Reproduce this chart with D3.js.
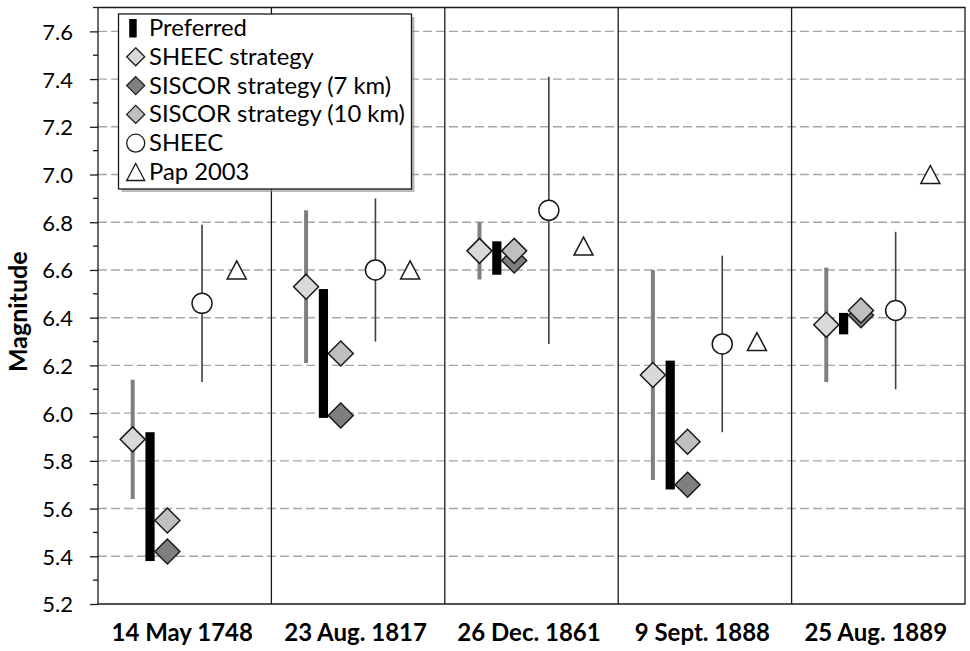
<!DOCTYPE html>
<html>
<head>
<meta charset="utf-8">
<script src="https://cdn.jsdelivr.net/npm/d3@7"></script>
<style>
  html, body { margin: 0; padding: 0; background: #fff; }
  svg { display: block; }
  text { font-family: Lato, "Open Sans", sans-serif; fill: #000; }
</style>
</head>
<body>
<svg id="chart" width="970" height="651"></svg>
<script>
// ---- data ----
const events = ["14 May 1748", "23 Aug. 1817", "26 Dec. 1861", "9 Sept. 1888", "25 Aug. 1889"];
const preferredLow  = [5.38, 5.98, 6.58, 5.68, 6.33];
const preferredHigh = [5.92, 6.52, 6.72, 6.22, 6.42];
const sheecStrategy     = [5.89, 6.53, 6.68, 6.16, 6.37];
const sheecStrategyLow  = [5.64, 6.21, 6.56, 5.72, 6.13];
const sheecStrategyHigh = [6.14, 6.85, 6.80, 6.60, 6.61];
const siscor7  = [5.42, 5.99, 6.64, 5.70, 6.41];
const siscor10 = [5.55, 6.25, 6.68, 5.88, 6.43];
const sheec     = [6.46, 6.60, 6.85, 6.29, 6.43];
const sheecLow  = [6.13, 6.30, 6.29, 5.92, 6.10];
const sheecHigh = [6.79, 6.90, 7.41, 6.66, 6.76];
const pap2003 = [6.6, 6.6, 6.7, 6.3, 7.0];
const yTicks = [5.2, 5.4, 5.6, 5.8, 6.0, 6.2, 6.4, 6.6, 6.8, 7.0, 7.2, 7.4, 7.6];
const legendLabels = ["Preferred", "SHEEC strategy", "SISCOR strategy (7 km)", "SISCOR strategy (10 km)", "SHEEC", "Pap 2003"];

// ---- layout ----
const pL = 98, pR = 965, pT = 7.5, pB = 604;
const svg = d3.select("#chart");

const y = d3.scaleLinear().domain([5.2, 7.7]).range([pB, pT]);
const xg = d3.scaleBand().domain(events).range([pL, pR]).padding(0);
const bw = xg.bandwidth();
const off = { strat: 0.2, pref: 0.3, siscor: 0.4, sheec: 0.6, pap: 0.8 };
const px = (i, k) => xg(events[i]) + bw * off[k];

// gridlines
svg.append("g").selectAll("line")
  .data(yTicks.filter(t => t > 5.2))
  .join("line")
  .attr("x1", pL).attr("x2", pR)
  .attr("y1", d => y(d)).attr("y2", d => y(d))
  .attr("stroke", "#a6a6a6").attr("stroke-width", 1.4)
  .attr("stroke-dasharray", "9,4");

// group dividers
svg.append("g").selectAll("line")
  .data(events.slice(1))
  .join("line")
  .attr("x1", d => xg(d)).attr("x2", d => xg(d))
  .attr("y1", pT).attr("y2", pB)
  .attr("stroke", "#1a1a1a").attr("stroke-width", 1.3);

// plot border (top, right, bottom)
svg.append("path")
  .attr("d", `M${pL},${pT}H${pR}V${pB}H${pL}`)
  .attr("fill", "none").attr("stroke", "#1a1a1a").attr("stroke-width", 1.3);

// y axis
const yAxis = d3.axisLeft(y).tickValues(yTicks).tickFormat(d3.format(".1f")).tickSize(8).tickPadding(17);
const ya = svg.append("g").attr("transform", `translate(${pL},0)`).call(yAxis);
ya.select(".domain").attr("stroke", "#1a1a1a").attr("stroke-width", 1.3).attr("d", `M0,${pT}V${pB}`);
ya.selectAll(".tick line").attr("stroke", "#1a1a1a").attr("stroke-width", 1.3);
ya.selectAll(".tick text").attr("font-size", 22).attr("font-family", "Lato, sans-serif").attr("fill", "#000").attr("dy", "0.36em");
// minor ticks
const minor = d3.range(5.3, 7.7, 0.2);
svg.append("g").selectAll("line").data(minor).join("line")
  .attr("x1", pL - 5).attr("x2", pL)
  .attr("y1", d => y(d)).attr("y2", d => y(d))
  .attr("stroke", "#1a1a1a").attr("stroke-width", 1.3);

// y title
svg.append("text")
  .attr("transform", `translate(27,${(pT + pB) / 2 + 6}) rotate(-90)`)
  .attr("text-anchor", "middle")
  .attr("font-size", 25).attr("font-weight", "bold")
  .text("Magnitude");

// x labels
svg.append("g").selectAll("text").data(events).join("text")
  .attr("x", d => xg(d) + bw / 2 - 2.5)
  .attr("y", 641)
  .attr("text-anchor", "middle")
  .attr("font-size", 24).attr("font-weight", "bold")
  .text(d => d);

const idx = d3.range(events.length);
const diamond = (cx, cy, r) => `M${cx},${cy - r}L${cx + r},${cy}L${cx},${cy + r}L${cx - r},${cy}Z`;
const tri = (cx, cy, w, h) => `M${cx},${cy - h / 2}L${cx + w / 2},${cy + h / 2}L${cx - w / 2},${cy + h / 2}Z`;

// SHEEC strategy error bars
svg.append("g").selectAll("line").data(idx).join("line")
  .attr("x1", i => px(i, "strat")).attr("x2", i => px(i, "strat"))
  .attr("y1", i => y(sheecStrategyHigh[i])).attr("y2", i => y(sheecStrategyLow[i]))
  .attr("stroke", "#7f7f7f").attr("stroke-width", 4);

// SHEEC error lines
svg.append("g").selectAll("line").data(idx).join("line")
  .attr("x1", i => px(i, "sheec")).attr("x2", i => px(i, "sheec"))
  .attr("y1", i => y(sheecHigh[i])).attr("y2", i => y(sheecLow[i]))
  .attr("stroke", "#404040").attr("stroke-width", 1.6);

// Preferred bars
svg.append("g").selectAll("rect").data(idx).join("rect")
  .attr("x", i => px(i, "pref") - 4.6).attr("width", 9.2)
  .attr("y", i => y(preferredHigh[i]))
  .attr("height", i => y(preferredLow[i]) - y(preferredHigh[i]))
  .attr("fill", "#000");

// SHEEC strategy diamonds
svg.append("g").selectAll("path").data(idx).join("path")
  .attr("d", i => diamond(px(i, "strat"), y(sheecStrategy[i]), 12.5))
  .attr("fill", "#d9d9d9").attr("stroke", "#1a1a1a").attr("stroke-width", 1.5);

// SISCOR 7 km
svg.append("g").selectAll("path").data(idx).join("path")
  .attr("d", i => diamond(px(i, "siscor"), y(siscor7[i]), 12.5))
  .attr("fill", "#7f7f7f").attr("stroke", "#1a1a1a").attr("stroke-width", 1.5);

// SISCOR 10 km
svg.append("g").selectAll("path").data(idx).join("path")
  .attr("d", i => diamond(px(i, "siscor"), y(siscor10[i]), 12.5))
  .attr("fill", "#bfbfbf").attr("stroke", "#1a1a1a").attr("stroke-width", 1.5);

// SHEEC circles
svg.append("g").selectAll("circle").data(idx).join("circle")
  .attr("cx", i => px(i, "sheec")).attr("cy", i => y(sheec[i])).attr("r", 10)
  .attr("fill", "#fff").attr("stroke", "#1a1a1a").attr("stroke-width", 1.5);

// Pap 2003 triangles
svg.append("g").selectAll("path").data(idx).join("path")
  .attr("d", i => tri(px(i, "pap"), y(pap2003[i]), 19, 18))
  .attr("fill", "#fff").attr("stroke", "#1a1a1a").attr("stroke-width", 1.5);

// ---- legend ----
const lg = svg.append("g");
const lx = 118.5, ly = 14, lw = 293, lh = 175;
lg.append("rect").attr("x", lx + 3).attr("y", ly + 3).attr("width", lw).attr("height", lh)
  .attr("fill", "#8c8c8c").attr("opacity", 0.6);
lg.append("rect").attr("x", lx).attr("y", ly).attr("width", lw).attr("height", lh)
  .attr("fill", "#fff").attr("stroke", "#1a1a1a").attr("stroke-width", 1.3);
const rowY = i => 36 + i * 28.8;
const sx = 135.7;
lg.selectAll("text").data(legendLabels).join("text")
  .attr("x", 149).attr("y", (d, i) => rowY(i))
  .attr("font-size", 23.8)
  .text(d => d);
lg.append("rect").attr("x", sx - 6.5).attr("y", rowY(0) - 17).attr("width", 7.5).attr("height", 18.5).attr("fill", "#000");
const legDia = [["#d9d9d9", 1], ["#7f7f7f", 2], ["#bfbfbf", 3]];
legDia.forEach(([c, i]) => {
  lg.append("path").attr("d", diamond(sx, rowY(i) - 8, 9))
    .attr("fill", c).attr("stroke", "#1a1a1a").attr("stroke-width", 1.3);
});
lg.append("circle").attr("cx", sx).attr("cy", rowY(4) - 8).attr("r", 9)
  .attr("fill", "#fff").attr("stroke", "#1a1a1a").attr("stroke-width", 1.3);
lg.append("path").attr("d", tri(sx, rowY(5) - 8, 18, 17))
  .attr("fill", "#fff").attr("stroke", "#1a1a1a").attr("stroke-width", 1.3);
</script>
</body>
</html>
